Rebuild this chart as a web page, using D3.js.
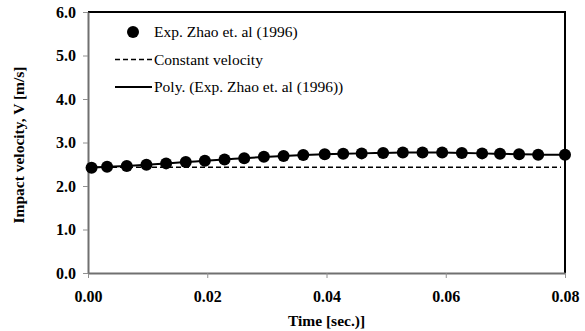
<!DOCTYPE html>
<html>
<head>
<meta charset="utf-8">
<script src="https://cdn.jsdelivr.net/npm/d3@7"></script>
<style>
  body { margin: 0; background: #fff; }
  svg text { font-family: "Liberation Serif", "Times New Roman", serif !important; }
</style>
</head>
<body>
<div id="chart"></div>
<script>
// data
var timeVals = [0.0006, 0.0032, 0.0065, 0.0098, 0.0131, 0.0164, 0.0196, 0.0229, 0.0262, 0.0295,
                0.0328, 0.0361, 0.0397, 0.0428, 0.0459, 0.0495, 0.0528, 0.0561, 0.0594, 0.0627,
                0.0661, 0.0691, 0.0723, 0.0755, 0.0800];
var velVals = [2.42, 2.44, 2.46, 2.49, 2.52, 2.55, 2.58, 2.61, 2.64, 2.67,
               2.69, 2.71, 2.73, 2.74, 2.75, 2.76, 2.77, 2.77, 2.77, 2.76,
               2.75, 2.74, 2.73, 2.72, 2.72];
var constVel = 2.43;
var constRange = [0, 0.08];
var xTicks = [0, 0.02, 0.04, 0.06, 0.08];
var yTicks = [0, 1, 2, 3, 4, 5, 6];
var legendLabels = ["Exp. Zhao et. al (1996)", "Constant velocity", "Poly. (Exp. Zhao et. al (1996))"];

var width = 585, height = 331;
var margin = {top: 12, right: 20, bottom: 58, left: 88};

var svg = d3.select("#chart").append("svg")
  .attr("width", width)
  .attr("height", height);

var x = d3.scaleLinear().domain([0, 0.08]).range([margin.left, width - margin.right]);
var y = d3.scaleLinear().domain([0, 6]).range([height - margin.bottom, margin.top]);

var data = timeVals.map(function(t, i) { return {t: t, v: velVals[i]}; });

// frame top + right (black)
svg.append("path")
  .attr("d", "M" + x(0) + "," + y(6) + "H" + x(0.08) + "V" + y(0))
  .attr("fill", "none")
  .attr("stroke", "#000")
  .attr("stroke-width", 2);

// axes
var xAxis = svg.append("g")
  .attr("transform", "translate(0," + y(0) + ")")
  .call(d3.axisBottom(x).tickValues(xTicks).tickFormat(d3.format(".2f")).tickSize(5).tickSizeOuter(0));
var yAxis = svg.append("g")
  .attr("transform", "translate(" + x(0) + ",0)")
  .call(d3.axisLeft(y).tickValues(yTicks).tickFormat(d3.format(".1f")).tickSize(5).tickSizeOuter(0));

[xAxis, yAxis].forEach(function(g) {
  g.attr("font-family", null);
  g.select(".domain").attr("stroke", "#707070").attr("stroke-width", 2);
  g.selectAll(".tick line").attr("stroke", "#909090");
  g.selectAll(".tick text")
    .attr("font-size", 16)
    .attr("font-weight", "bold")
    .attr("fill", "#000");
});
xAxis.selectAll(".tick text").attr("y", 8).attr("dy", "1.3em");
yAxis.selectAll(".tick text").attr("x", -12);

// constant velocity
svg.append("line")
  .attr("x1", x(constRange[0])).attr("x2", x(constRange[1]) - 4)
  .attr("y1", y(constVel)).attr("y2", y(constVel))
  .attr("stroke", "#000")
  .attr("stroke-width", 1.6)
  .attr("stroke-dasharray", "5,3");

// poly trendline
var line = d3.line()
  .x(function(d) { return x(d.t); })
  .y(function(d) { return y(d.v); })
  .curve(d3.curveBasis);
svg.append("path")
  .datum(data)
  .attr("d", line)
  .attr("fill", "none")
  .attr("stroke", "#000")
  .attr("stroke-width", 2);

// points
svg.selectAll(".pt")
  .data(data)
  .enter()
  .append("circle")
  .attr("class", "pt")
  .attr("cx", function(d) { return x(d.t); })
  .attr("cy", function(d) { return y(d.v); })
  .attr("r", 6)
  .attr("fill", "#000");

// legend
var legend = svg.selectAll(".legend")
  .data(legendLabels)
  .enter()
  .append("g")
  .attr("class", "legend")
  .attr("transform", function(d, i) { return "translate(115," + (32 + i * 27.5) + ")"; });

legend.each(function(d, i) {
  var g = d3.select(this);
  if (i === 0) {
    g.append("circle").attr("cx", 18).attr("cy", 0).attr("r", 6).attr("fill", "#000");
  } else {
    g.append("line")
      .attr("x1", 0).attr("x2", 37).attr("y1", 0).attr("y2", 0)
      .attr("stroke", "#000")
      .attr("stroke-width", i === 1 ? 1.6 : 2)
      .attr("stroke-dasharray", i === 1 ? "5,3" : null);
  }
  g.append("text")
    .attr("x", 39)
    .attr("y", 5)
    .attr("font-size", 15.5)
    .text(d);
});

// axis titles
svg.append("text")
  .attr("x", (x(0) + x(0.08)) / 2)
  .attr("y", 326)
  .attr("text-anchor", "middle")
  .attr("font-size", 15.5)
  .attr("font-weight", "bold")
  .text("Time [sec.)]");

svg.append("text")
  .attr("transform", "translate(24,145) rotate(-90)")
  .attr("text-anchor", "middle")
  .attr("font-size", 15.5)
  .attr("font-weight", "bold")
  .text("Impact velocity, V [m/s]");
</script>
</body>
</html>
